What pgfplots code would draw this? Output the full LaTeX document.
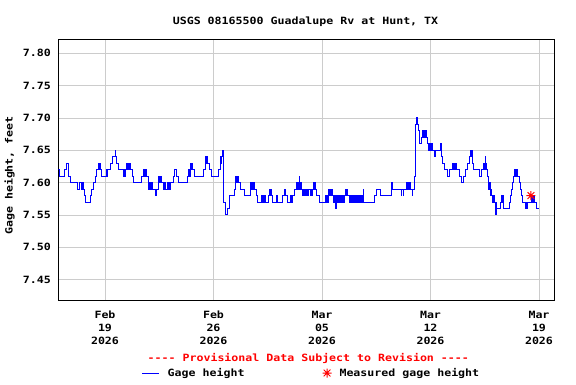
\documentclass[border=0pt]{standalone}
\usepackage{fontspec}
\setmonofont{DejaVu Sans Mono}[FakeStretch=1.16]
\usepackage{pgfplots}
\pgfplotsset{compat=1.18}
\usepackage{pgfplotstable}
\definecolor{usgsblue}{RGB}{0,0,255}
\definecolor{usgsred}{RGB}{255,0,0}
\definecolor{gridgray}{RGB}{204,204,204}
\pgfdeclareplotmark{usgsstar}{%
  \pgfpathmoveto{\pgfqpoint{-\pgfplotmarksize}{0pt}}\pgfpathlineto{\pgfqpoint{\pgfplotmarksize}{0pt}}%
  \pgfpathmoveto{\pgfqpoint{0pt}{-\pgfplotmarksize}}\pgfpathlineto{\pgfqpoint{0pt}{\pgfplotmarksize}}%
  \pgfpathmoveto{\pgfqpoint{-.75\pgfplotmarksize}{-.75\pgfplotmarksize}}\pgfpathlineto{\pgfqpoint{.75\pgfplotmarksize}{.75\pgfplotmarksize}}%
  \pgfpathmoveto{\pgfqpoint{-.75\pgfplotmarksize}{.75\pgfplotmarksize}}\pgfpathlineto{\pgfqpoint{.75\pgfplotmarksize}{-.75\pgfplotmarksize}}%
  \pgfusepathqstroke}
% day = days since Feb 16 2026 00:00
\pgfplotstableread{
day gh
0.00 7.62
0.05 7.61
0.355 7.62
0.484 7.63
0.613 7.62
0.656 7.61
0.764 7.60
1.194 7.59
1.344 7.60
1.452 7.59
1.50 7.60
1.54 7.59
1.58 7.60
1.602 7.59
1.667 7.58
1.774 7.57
2.076 7.58
2.161 7.59
2.269 7.60
2.355 7.61
2.441 7.62
2.57 7.63
2.62 7.62
2.66 7.63
2.70 7.62
2.785 7.61
3.108 7.62
3.15 7.61
3.19 7.62
3.387 7.63
3.495 7.64
3.667 7.65
3.69 7.64
3.753 7.63
3.86 7.62
4.205 7.61
4.25 7.62
4.29 7.61
4.333 7.62
4.398 7.63
4.44 7.62
4.48 7.63
4.52 7.62
4.56 7.63
4.60 7.62
4.63 7.63
4.656 7.62
4.742 7.61
4.828 7.60
5.366 7.61
5.516 7.62
5.56 7.61
5.60 7.62
5.64 7.61
5.67 7.62
5.689 7.61
5.775 7.60
5.82 7.59
5.86 7.60
5.90 7.59
5.94 7.60
5.98 7.59
6.02 7.60
6.05 7.59
6.29 7.58
6.31 7.59
6.42 7.60
6.46 7.61
6.50 7.60
6.54 7.61
6.58 7.60
6.62 7.61
6.65 7.60
6.764 7.59
6.80 7.60
6.84 7.59
6.88 7.60
6.92 7.59
7.05 7.60
7.09 7.59
7.13 7.60
7.17 7.59
7.21 7.60
7.409 7.61
7.495 7.62
7.645 7.61
7.753 7.60
8.312 7.61
8.398 7.62
8.44 7.61
8.484 7.63
8.53 7.62
8.57 7.63
8.61 7.62
8.64 7.63
8.656 7.62
8.742 7.61
9.344 7.62
9.452 7.64
9.49 7.63
9.53 7.64
9.57 7.63
9.59 7.64
9.602 7.63
9.731 7.62
9.839 7.61
10.312 7.62
10.42 7.63
10.45 7.64
10.48 7.63
10.506 7.64
10.57 7.65
10.65 7.57
10.78 7.55
10.92 7.56
11.04 7.58
11.33 7.59
11.40 7.60
11.44 7.61
11.48 7.60
11.52 7.61
11.56 7.60
11.60 7.61
11.64 7.60
11.76 7.59
12.00 7.58
12.37 7.59
12.41 7.60
12.45 7.59
12.49 7.60
12.53 7.59
12.57 7.60
12.62 7.59
12.742 7.58
12.828 7.57
13.108 7.58
13.15 7.57
13.19 7.58
13.23 7.57
13.27 7.58
13.31 7.57
13.35 7.58
13.387 7.57
13.538 7.58
13.602 7.59
13.64 7.58
13.68 7.59
13.731 7.58
13.817 7.57
14.075 7.58
14.14 7.57
14.462 7.58
14.549 7.59
14.59 7.58
14.63 7.59
14.677 7.58
14.806 7.57
14.936 7.58
14.98 7.57
15.02 7.58
15.06 7.57
15.108 7.58
15.194 7.59
15.366 7.60
15.41 7.59
15.45 7.60
15.49 7.59
15.538 7.61
15.56 7.60
15.60 7.59
15.64 7.60
15.667 7.59
15.75 7.58
15.79 7.59
15.83 7.58
15.87 7.59
15.91 7.58
15.95 7.59
15.99 7.58
16.03 7.59
16.07 7.58
16.10 7.59
16.25 7.58
16.30 7.59
16.35 7.58
16.40 7.59
16.441 7.60
16.48 7.59
16.52 7.60
16.56 7.59
16.656 7.58
16.828 7.57
17.258 7.58
17.30 7.57
17.34 7.58
17.38 7.57
17.409 7.59
17.45 7.58
17.49 7.59
17.53 7.58
17.57 7.59
17.61 7.58
17.64 7.59
17.667 7.58
17.731 7.57
17.77 7.58
17.81 7.57
17.85 7.58
17.903 7.56
17.92 7.57
17.96 7.58
18.00 7.57
18.04 7.58
18.08 7.57
18.12 7.58
18.16 7.57
18.20 7.58
18.24 7.57
18.28 7.58
18.32 7.57
18.36 7.58
18.40 7.57
18.44 7.58
18.484 7.59
18.52 7.58
18.56 7.59
18.60 7.58
18.63 7.59
18.656 7.58
18.806 7.57
18.85 7.58
18.89 7.57
18.93 7.58
18.97 7.57
19.01 7.58
19.05 7.57
19.09 7.58
19.13 7.57
19.17 7.58
19.21 7.57
19.25 7.58
19.29 7.57
19.33 7.58
19.37 7.57
19.41 7.58
19.45 7.57
19.49 7.58
19.53 7.57
19.57 7.58
19.61 7.57
19.667 7.59
19.68 7.57
20.355 7.58
20.527 7.59
20.742 7.58
21.50 7.60
21.55 7.59
22.14 7.58
22.16 7.59
22.25 7.58
22.27 7.59
22.44 7.60
22.48 7.59
22.52 7.60
22.56 7.59
22.60 7.60
22.64 7.59
22.68 7.60
22.72 7.59
22.83 7.58
22.85 7.59
22.95 7.61
23.01 7.69
23.107 7.70
23.13 7.69
23.15 7.70
23.172 7.69
23.258 7.68
23.322 7.66
23.43 7.67
23.473 7.68
23.51 7.67
23.55 7.68
23.59 7.67
23.63 7.68
23.67 7.67
23.69 7.68
23.71 7.67
23.817 7.66
23.86 7.65
23.90 7.66
23.94 7.65
23.98 7.66
24.02 7.65
24.06 7.66
24.10 7.65
24.226 7.64
24.312 7.65
24.656 7.66
24.68 7.65
24.70 7.64
24.785 7.63
24.892 7.62
25.107 7.61
25.258 7.62
25.43 7.63
25.47 7.62
25.51 7.63
25.55 7.62
25.59 7.63
25.63 7.62
25.66 7.63
25.688 7.62
25.86 7.61
25.968 7.60
26.118 7.61
26.29 7.62
26.398 7.63
26.548 7.64
26.59 7.65
26.63 7.64
26.67 7.65
26.70 7.64
26.72 7.63
26.806 7.62
27.193 7.61
27.28 7.62
27.408 7.63
27.45 7.62
27.49 7.63
27.53 7.62
27.559 7.64
27.58 7.63
27.60 7.62
27.68 7.61
27.731 7.60
27.77 7.59
27.81 7.60
27.84 7.59
27.88 7.58
27.92 7.59
27.96 7.58
27.989 7.57
28.03 7.58
28.07 7.57
28.10 7.58
28.118 7.57
28.225 7.55
28.24 7.57
28.268 7.56
28.548 7.57
28.59 7.58
28.63 7.57
28.67 7.58
28.699 7.56
29.086 7.57
29.16 7.58
29.236 7.59
29.30 7.60
29.344 7.61
29.40 7.62
29.44 7.61
29.48 7.62
29.52 7.61
29.56 7.62
29.60 7.61
29.731 7.60
29.838 7.59
29.90 7.58
29.946 7.57
30.161 7.56
30.20 7.57
30.24 7.56
30.28 7.57
30.527 7.58
30.57 7.57
30.61 7.58
30.65 7.57
30.69 7.58
30.72 7.57
30.849 7.56
31.00 7.56
}\gage
\pgfplotstableread{
day gh
30.48 7.58
}\measured
\begin{document}
\ttfamily\bfseries\fontsize{10}{13.2}\selectfont
\begin{tikzpicture}
\path[use as bounding box] (-58.5pt,-83.3pt) rectangle (517.5pt,300.7pt);
\begin{axis}[
  scale only axis, width=496pt, height=261.4pt,
  xmin=0, xmax=32, ymin=7.4175, ymax=7.8216,
  axis line style={line width=1.2pt, black},
  xtick={3,10,17,24,31},
  xticklabels={Feb\\19\\2026, Feb\\26\\2026, Mar\\05\\2026, Mar\\12\\2026, Mar\\19\\2026},
  xticklabel style={align=center, anchor=north, inner sep=0pt, yshift=-10pt},
  ytick={7.45,7.5,7.55,7.6,7.65,7.7,7.75,7.8},
  yticklabel style={/pgf/number format/.cd, fixed, fixed zerofill, precision=2, /tikz/.cd, anchor=east, inner sep=0pt, xshift=-7.5pt},
  /pgf/number format/assume math mode=true,
  major tick length=0pt,
  grid=major, major grid style={gridgray, line width=0.9pt},
  title={USGS 08165500 Guadalupe Rv at Hunt, TX},
  every axis title/.style={at={(axis description cs:0.498,1.0662)}, anchor=center, inner sep=0pt},
  ylabel={Gage height, feet},
  every axis y label/.style={at={(axis description cs:-0.0988,0.479)}, rotate=90, anchor=center, inner sep=0pt},
  legend columns=2,
  legend cell align=left,
  legend style={at={(axis description cs:0.51,-0.2766)}, anchor=center, draw=none, fill=none,
    /tikz/every even column/.append style={column sep=76pt},
    /tikz/every odd column/.append style={column sep=6pt}},
]
\addplot[const plot, usgsblue, line width=1pt,
  legend image code/.code={\draw[usgsblue, line width=1pt] (0pt,0pt) -- (17pt,0pt);}]
  table[x=day, y=gh] {\gage};
\addlegendentry{Gage height}
\addplot[only marks, mark=usgsstar, mark size=4.5pt, usgsred, line width=1pt]
  table[x=day, y=gh] {\measured};
\addlegendentry{Measured gage height}
\end{axis}
\node[usgsred, anchor=center, inner sep=0pt] at (249.8pt,-57.3pt) {---- Provisional Data Subject to Revision ----};
\end{tikzpicture}
\end{document}
